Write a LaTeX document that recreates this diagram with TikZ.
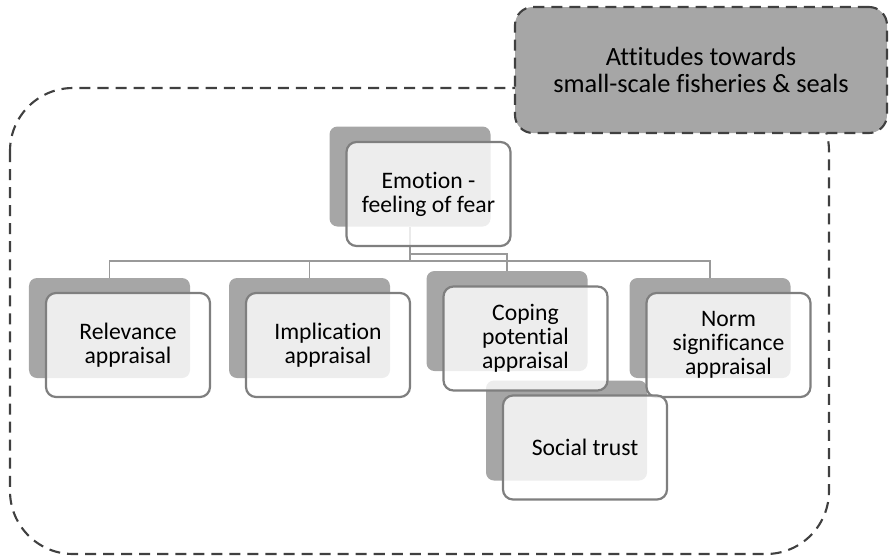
\documentclass[tikz,border=0pt]{standalone}
\usepackage{fontspec}
\setmainfont{Carlito}[Ligatures=NoCommon]
\usepackage{tikz}
\usetikzlibrary{calc}
\definecolor{shade}{HTML}{A6A6A6}
\definecolor{edge}{HTML}{7F7F7F}
\definecolor{wire}{HTML}{999999}
\definecolor{frame}{HTML}{404040}
\tikzstyle{every node}=[font=\fontsize{20.2}{20.3}\selectfont]
\tikzstyle{back}=[fill=shade, rounded corners=2.4mm, inner sep=0pt,
                  minimum width=48.3mm, minimum height=30mm]
\tikzstyle{front}=[draw=edge, line width=1.9pt, fill=white, fill opacity=.8,
                   text opacity=1, rounded corners=3mm, align=center, inner sep=0pt,
                   minimum width=49.2mm, minimum height=31.2mm]
\tikzstyle{link}=[draw=wire, line width=1.7pt]
\tikzstyle{frameline}=[draw=frame, line width=1.8pt, dash pattern=on 9.4pt off 6pt]

\begin{document}
\begin{tikzpicture}[x=.3mm, y=-.3mm]

                \useasboundingbox (0, 0) rectangle (891, 557);

                \coordinate (E) at (410, 176.5);
                \coordinate (R) at (109.5, 328);
                \coordinate (I) at (309.5, 328);
                \coordinate (C) at (507, 321);
                \coordinate (N) at (710, 328);
                \coordinate (S) at (566.5, 430.5);

                \draw [frameline, rounded corners=18.9mm] (10, 88) rectangle (829, 554);

                \node [back] (E0) at (E) {};
                \node [back] (R0) at (R) {};
                \node [back] (I0) at (I) {};
                \node [back] (C0) at (C) {};
                \node [back] (N0) at (N) {};
                \node [back] (S0) at (S) {};

                \coordinate (bus) at (410, 261);
                \coordinate (fork) at (410, 254);
                \draw [link] (E0.south) -- (bus);
                \draw [link] (R0.north) |- (bus) -| (N0.north);
                \draw [link] (I0.north) -- (I0.north |- bus);
                \draw [link] (fork) -| (C0.north);

                \node [front] (E1) at ($(E)+(18.5, 17.5)$) {Emotion -\\feeling of fear};
                \node [front] (R1) at ($(R)+(18.5, 17)$) {Relevance\\appraisal};
                \node [front] (I1) at ($(I)+(18.5, 17)$) {Implication\\appraisal};
                \node [front] (C1) at ($(C)+(18.5, 17.5)$) {Coping\\potential\\appraisal};
                \node [front] (N1) at ($(N)+(18.5, 17)$) {Norm\\significance\\appraisal};
                \node [front] (S1) at ($(S)+(18.5, 17)$) {Social trust};

                \node [frameline, fill=shade, rounded corners=5.4mm, align=center,
                       inner sep=0pt, minimum width=111.6mm, minimum height=37.8mm,
                       font=\fontsize{22.5}{23.6}\selectfont]
                      (att) at (701, 70) {Attitudes towards\\small-scale fisheries \& seals};

            \end{tikzpicture}
\end{document}
